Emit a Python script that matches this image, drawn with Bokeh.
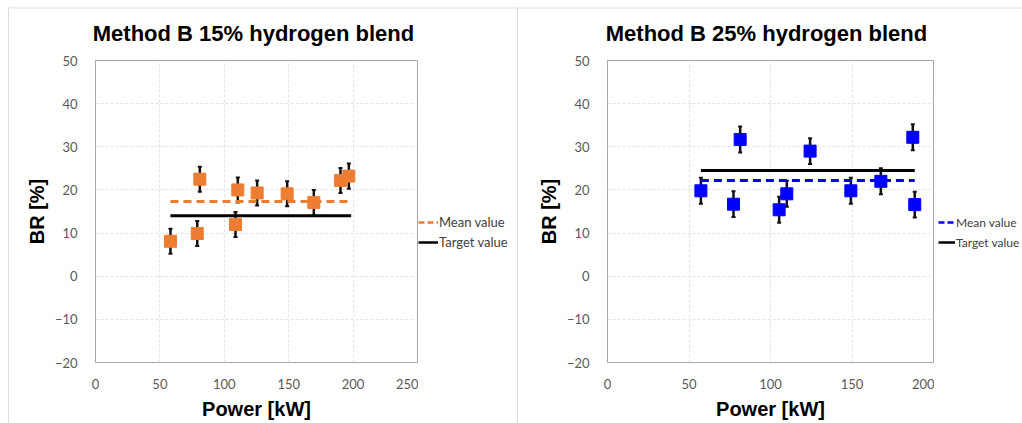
from bokeh.plotting import figure
from bokeh.models import (Range1d, Whisker, TeeHead, ColumnDataSource, Legend,
                          LegendItem, FixedTicker, Spacer)
from bokeh.layouts import row, column
from bokeh.core.properties import value
from bokeh.embed import file_html
from bokeh.resources import INLINE

# ---- data: 15% hydrogen blend ----
power_15 = [58.2, 79.0, 81.0, 108.7, 110.5, 125.5, 148.8, 169.5, 190.2, 196.7]
br_15 = [8.1, 9.9, 22.5, 12.0, 20.0, 19.3, 19.1, 17.1, 22.2, 23.2]
err_15 = [2.9, 2.9, 2.9, 2.9, 2.9, 2.9, 2.9, 2.9, 2.9, 2.9]
mean_15 = 17.3
target_15 = 14.0
mean_span_15 = [58.2, 196.7]
target_span_15 = [58.2, 198.5]

# ---- data: 25% hydrogen blend ----
power_25 = [57.3, 77.3, 81.4, 105.3, 110.0, 124.3, 149.3, 167.7, 187.3, 188.5]
br_25 = [19.8, 16.7, 31.7, 15.4, 19.1, 29.0, 19.8, 22.0, 32.2, 16.6]
err_25 = [3.0, 3.0, 3.0, 3.0, 3.0, 3.0, 3.0, 3.0, 3.0, 3.0]
mean_25 = 22.2
target_25 = 24.5
mean_span_25 = [57.3, 188.5]
target_span_25 = [57.3, 188.5]

titles = ["Method B 15% hydrogen blend", "Method B 25% hydrogen blend"]
y_ticks = [-20, -10, 0, 10, 20, 30, 40, 50]
x_ticks_15 = [0, 50, 100, 150, 200, 250]
x_ticks_25 = [0, 50, 100, 150, 200]
legend_labels = ["Mean value", "Target value"]

TICK_FONT = "Lato"
BOLD_FONT = "Liberation Sans"
BORDER = "#dcdcdc"
HEAD_H = 48
BODY_H = 423 - HEAD_H
BODY_TOP = 60 - HEAD_H


def blank(fig):
    fig.outline_line_color = None
    fig.xgrid.visible = False
    fig.ygrid.visible = False
    fig.background_fill_color = "white"
    fig.border_fill_color = "white"
    return fig


def make_header(title, width, cx):
    h = figure(width=width, height=HEAD_H, output_backend="svg", toolbar_location=None,
               x_axis_location=None, y_axis_location=None,
               x_range=Range1d(0, width), y_range=Range1d(HEAD_H, 0),
               min_border=0, min_border_left=0, min_border_right=0,
               min_border_top=0, min_border_bottom=0)
    blank(h)
    # top edge of the chart area
    h.segment(x0=[0], y0=[7.5], x1=[width], y1=[7.5], line_color=BORDER, line_width=1)
    h.text(x=[cx], y=[33], text=[title], text_align="center", text_baseline="alphabetic",
           text_font=value(BOLD_FONT), text_font_size="22px", text_font_style="bold",
           text_color="#000000")
    return h


def make_panel(power, br, err, mean, target, mean_span, target_span,
               color, xmax, xticks, width, mb_left, mb_right):
    p = figure(width=width, height=BODY_H, output_backend="svg", toolbar_location=None,
               x_range=Range1d(0, xmax), y_range=Range1d(-20, 50),
               min_border_left=mb_left, min_border_right=mb_right,
               min_border_top=BODY_TOP, min_border_bottom=61)
    p.outline_line_color = "#a6a6a6"
    p.outline_line_width = 1
    p.background_fill_color = "white"
    p.border_fill_color = "white"

    for ax in (p.xaxis[0], p.yaxis[0]):
        ax.axis_line_color = None
        ax.major_tick_line_color = None
        ax.minor_tick_line_color = None
        ax.major_label_text_font = TICK_FONT
        ax.major_label_text_font_size = "13px"
        ax.major_label_text_color = "#595959"
        ax.axis_label_text_font = BOLD_FONT
        ax.axis_label_text_font_size = "20px"
        ax.axis_label_text_font_style = "bold"
        ax.axis_label_text_color = "#000000"
    p.xaxis.ticker = FixedTicker(ticks=xticks)
    p.yaxis.ticker = FixedTicker(ticks=y_ticks)
    p.xaxis.axis_label = "Power [kW]"
    p.yaxis.axis_label = "BR [%]"
    p.xaxis.major_label_standoff = 10
    p.yaxis.major_label_standoff = 12
    p.xaxis.axis_label_standoff = 6
    p.yaxis.axis_label_standoff = 4

    for g in (p.xgrid[0], p.ygrid[0]):
        g.grid_line_color = "#e3e3e3"
        g.grid_line_dash = "3 2"
        g.grid_line_width = 1

    src = ColumnDataSource(dict(x=power, y=br,
                                lo=[b - e for b, e in zip(br, err)],
                                hi=[b + e for b, e in zip(br, err)]))

    p.line(x=mean_span, y=[mean, mean], line_color=color, line_width=3,
           line_dash="8 5")
    p.line(x=target_span, y=[target, target], line_color="#000000", line_width=3)

    wk = Whisker(base="x", lower="lo", upper="hi", source=src,
                 line_color="#111111", line_width=2.5,
                 upper_head=TeeHead(size=4, line_color="#111111", line_width=2),
                 lower_head=TeeHead(size=4, line_color="#111111", line_width=2))
    p.add_layout(wk)
    p.scatter(x="x", y="y", source=src, marker="square", size=12,
              fill_color=color, line_color=color)
    return p


def make_legend(color, width, loc, glyph_w, font_size):
    q = figure(width=width, height=BODY_H, output_backend="svg", toolbar_location=None,
               x_axis_location=None, y_axis_location=None,
               x_range=Range1d(0, 1), y_range=Range1d(0, 1),
               min_border=0, min_border_left=0, min_border_right=0,
               min_border_top=BODY_TOP, min_border_bottom=61)
    blank(q)
    # off-screen sample renderers, only used to draw the legend glyphs
    r_mean = q.line(x=[5, 6], y=[5, 6], line_color=color, line_width=2.5,
                    line_dash="6 3")
    r_target = q.line(x=[5, 6], y=[5, 6], line_color="#000000", line_width=2.5)
    leg = Legend(items=[LegendItem(label=legend_labels[0], renderers=[r_mean]),
                        LegendItem(label=legend_labels[1], renderers=[r_target])],
                 location=loc, orientation="vertical",
                 padding=0, margin=0, spacing=0, border_line_color=None,
                 background_fill_alpha=0, glyph_width=glyph_w, glyph_height=20,
                 label_height=20, label_standoff=1,
                 label_text_font=TICK_FONT, label_text_font_size=font_size,
                 label_text_color="#404040")
    q.add_layout(leg, "center")
    return q


def vline():
    return Spacer(width=1, height=416, margin=(7, 0, 0, 0),
                  styles={"background-color": BORDER})


h1 = make_header(titles[0], 508, 244)
p1 = make_panel(power_15, br_15, err_15, mean_15, target_15, mean_span_15,
                target_span_15, "#ED7D31", 250, x_ticks_15, 409, 86, 1)
l1 = make_legend("#ED7D31", 99, (0, 110), 20, "13px")

h2 = make_header(titles[1], 504, 248)
p2 = make_panel(power_25, br_25, err_25, mean_25, target_25, mean_span_25,
                target_span_25, "#0000FF", 200, x_ticks_25, 416, 89, 1)
l2 = make_legend("#0000FF", 88, (4, 110), 17, "12px")

panel1 = column(h1, row(p1, l1, spacing=0), spacing=0)
panel2 = column(h2, row(p2, l2, spacing=0), spacing=0)

layout = row(Spacer(width=8, height=423), vline(), panel1, vline(), panel2, spacing=0)
open("out.html", "w").write(file_html(layout, INLINE))
